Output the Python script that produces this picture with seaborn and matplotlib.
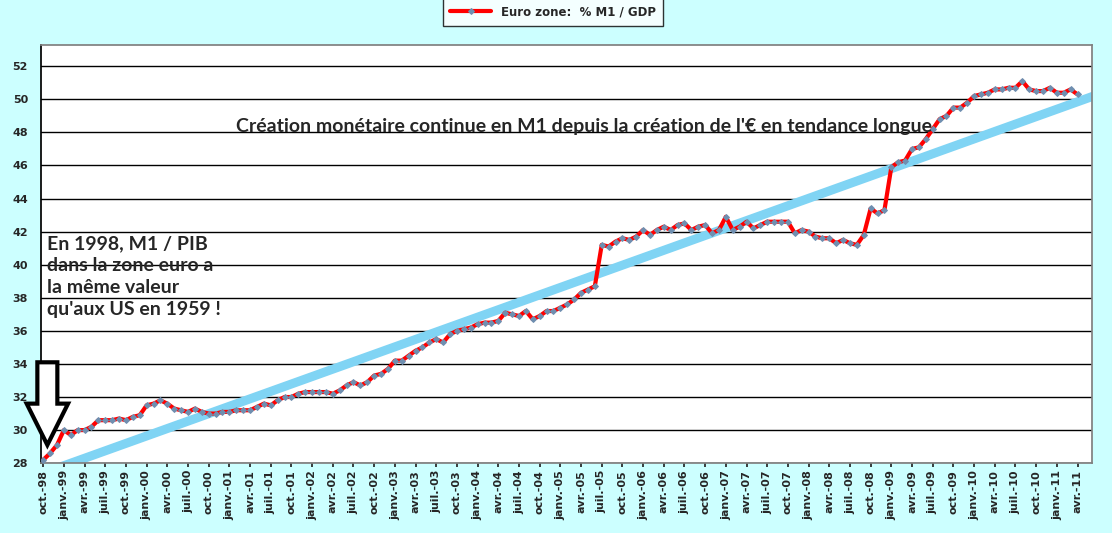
import numpy as np
import pandas as pd
import matplotlib.pyplot as plt
import seaborn as sns
from matplotlib.patches import FancyArrow

# M1 / PIB zone euro, mensuel, oct-98 -> avr-11
valeurs_1998 = [28.2, 28.6, 29.1]
valeurs_1999 = [30.0, 29.7, 30.0, 30.0, 30.2, 30.6, 30.6, 30.6, 30.7, 30.6, 30.8, 30.9]
valeurs_2000 = [31.5, 31.6, 31.8, 31.6, 31.3, 31.2, 31.1, 31.3, 31.1, 31.0, 31.0, 31.1]
valeurs_2001 = [31.1, 31.2, 31.2, 31.2, 31.4, 31.6, 31.5, 31.8, 32.0, 32.0, 32.2, 32.3]
valeurs_2002 = [32.3, 32.3, 32.3, 32.2, 32.4, 32.7, 32.9, 32.7, 32.9, 33.3, 33.4, 33.7]
valeurs_2003 = [34.2, 34.2, 34.5, 34.8, 35.0, 35.3, 35.5, 35.3, 35.8, 36.0, 36.1, 36.2]
valeurs_2004 = [36.4, 36.5, 36.5, 36.6, 37.1, 37.0, 36.9, 37.2, 36.7, 36.9, 37.2, 37.2]
valeurs_2005 = [37.4, 37.6, 37.9, 38.3, 38.5, 38.7, 41.2, 41.1, 41.4, 41.6, 41.5, 41.7]
valeurs_2006 = [42.1, 41.8, 42.1, 42.3, 42.1, 42.4, 42.5, 42.1, 42.3, 42.4, 41.9, 42.1]
valeurs_2007 = [42.9, 42.1, 42.3, 42.6, 42.2, 42.4, 42.6, 42.6, 42.6, 42.6, 41.9, 42.1]
valeurs_2008 = [42.0, 41.7, 41.6, 41.6, 41.3, 41.5, 41.3, 41.2, 41.8, 43.4, 43.1, 43.3]
valeurs_2009 = [45.9, 46.2, 46.3, 47.0, 47.1, 47.6, 48.2, 48.8, 49.0, 49.5, 49.5, 49.8]
valeurs_2010 = [50.2, 50.3, 50.4, 50.6, 50.6, 50.7, 50.7, 51.1, 50.6, 50.5, 50.5, 50.7]
valeurs_2011 = [50.4, 50.4, 50.6, 50.3]

mois = ['janv.', 'févr.', 'mars', 'avr.', 'mai', 'juin', 'juil.', 'août', 'sept.', 'oct.', 'nov.', 'déc.']
annees = ['98', '99', '00', '01', '02', '03', '04', '05', '06', '07', '08', '09', '10', '11']

# tendance longue (debut / fin)
tendance_x = [0, 153]
tendance_y = [27.4, 50.3]


def run_chart():
    valeurs = (valeurs_1998 + valeurs_1999 + valeurs_2000 + valeurs_2001 + valeurs_2002
               + valeurs_2003 + valeurs_2004 + valeurs_2005 + valeurs_2006 + valeurs_2007
               + valeurs_2008 + valeurs_2009 + valeurs_2010 + valeurs_2011)
    etiquettes = [m + '-' + a for a in annees for m in mois][9:9 + len(valeurs)]
    df = pd.DataFrame({'idx': range(len(valeurs)), 'm1': valeurs})

    sns.set_theme(style="white")
    plt.rcParams['font.family'] = ['DejaVu Sans']

    plt.figure(figsize=(11.12, 5.33), facecolor='#CCFFFF')
    ax = plt.axes([0.037, 0.131, 0.945, 0.785])
    ax.set_facecolor('white')

    plt.plot(tendance_x, tendance_y, color='#80D4F4', linewidth=6.5, solid_capstyle='butt', zorder=2)
    sns.lineplot(data=df, x='idx', y='m1', color='red', linewidth=3, marker='D', markersize=3,
                 markerfacecolor='#6F8FB0', markeredgecolor='#6F8FB0', label='Euro zone:  % M1 / GDP', zorder=3)

    plt.xlim(-0.3, 152.1)
    plt.ylim(28, 53.3)
    plt.yticks(np.arange(28, 53, 2), fontsize=8, fontweight='bold')
    plt.xticks(df['idx'][::3], etiquettes[::3], rotation=90, fontsize=8, fontweight='bold')
    ax.tick_params(axis='x', length=3, direction='out', bottom=True, pad=2)
    ax.grid(axis='y', color='black', linewidth=1)
    ax.set_axisbelow(True)
    for cote in ['top', 'right', 'bottom']:
        ax.spines[cote].set_color('grey')
    ax.spines['left'].set_color('black')
    plt.xlabel('')
    plt.ylabel('')

    leg = plt.legend(loc='upper center', bbox_to_anchor=(0.487, 1.125), frameon=True, handlelength=3.5,
                     fancybox=False, edgecolor='black', borderpad=0.6,
                     prop={'weight': 'bold', 'size': 8.5})
    leg.get_frame().set_linewidth(1)

    plt.text(0.517, 0.805, "Création monétaire continue en M1 depuis la création de l'€ en tendance longue",
             transform=ax.transAxes, ha='center', va='center', fontsize=14, fontweight='bold',
             family=['Lato', 'DejaVu Sans'], zorder=4)
    plt.text(0.006, 0.545, "En 1998, M1 / PIB\ndans la zone euro a\nla même valeur\nqu'aux US en 1959 !",
             transform=ax.transAxes, ha='left', va='top', fontsize=14, fontweight='bold',
             family=['Lato', 'DejaVu Sans'], linespacing=1.35, zorder=4)

    # fleche creuse vers le point de depart
    plt.gca().add_patch(FancyArrow(0.6, 34.1, 0, -5.0, width=2.9, head_width=6.0, head_length=2.5,
                                   length_includes_head=True, facecolor='white', edgecolor='black',
                                   linewidth=3, zorder=5, clip_on=False))

    plt.savefig('out.png', dpi=100, facecolor='#CCFFFF')
    plt.close()


if __name__ == "__main__":
    run_chart()
